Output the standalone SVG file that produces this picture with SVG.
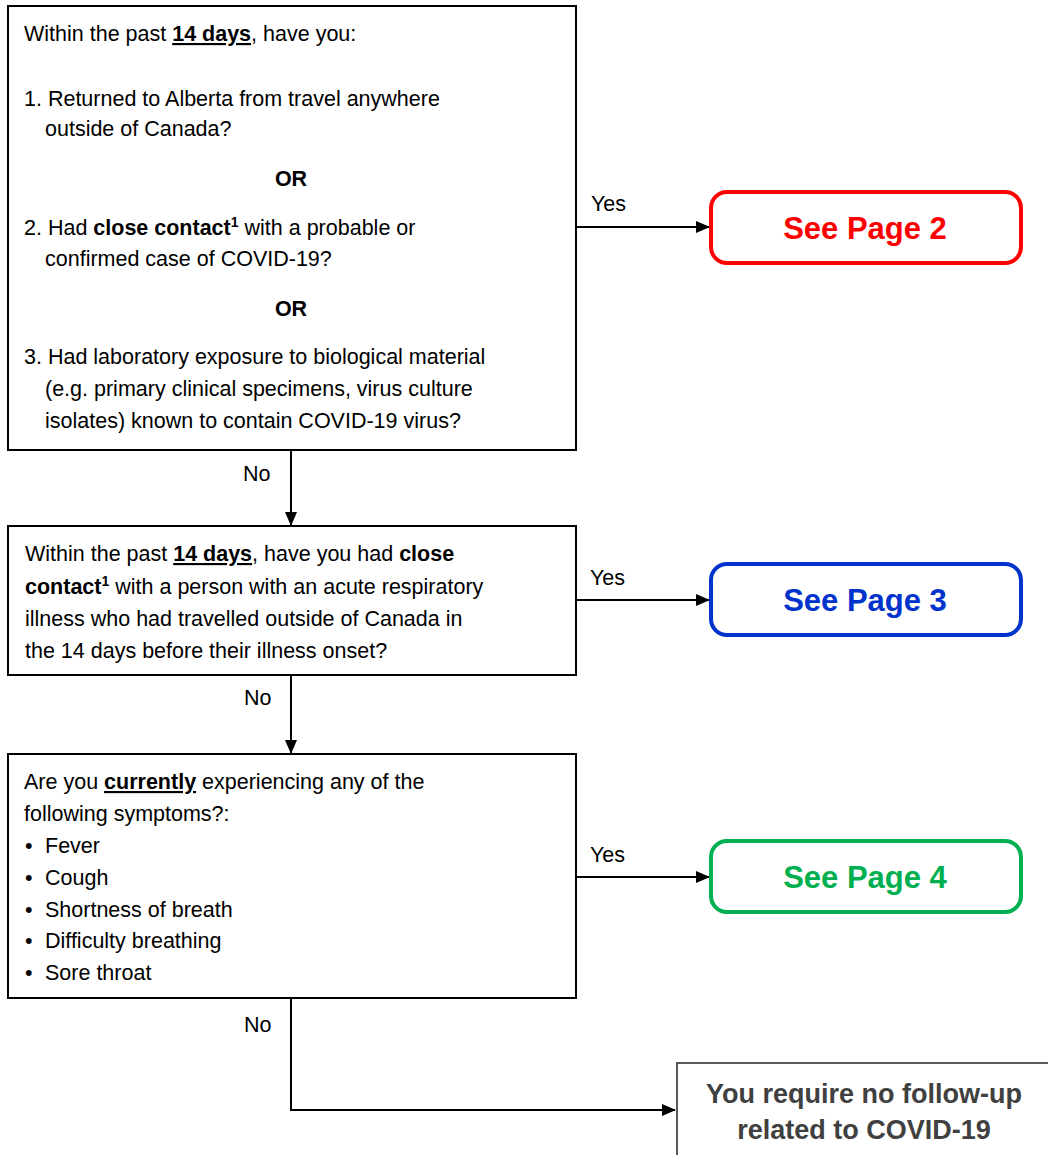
<svg xmlns="http://www.w3.org/2000/svg" width="1048" height="1155" viewBox="0 0 1048 1155">
<style>
text{font-family:"Liberation Sans",Arial,sans-serif;font-size:21.5px;fill:#000}
.b{font-weight:bold}
.u{font-weight:bold;text-decoration:underline}
.sup{font-size:14px;font-weight:bold}
.box{fill:#fff;stroke:#000;stroke-width:2}
.pg{fill:#fff;stroke-width:4}
.pt{font-size:31px;font-weight:bold;text-anchor:middle}
.ln{fill:none;stroke:#000;stroke-width:2}
.c{text-anchor:middle}
.end{font-size:27px;font-weight:bold;text-anchor:middle;fill:#404040}
</style>
<defs>
<marker id="ah" markerWidth="14" markerHeight="12" refX="13" refY="6" orient="auto" markerUnits="userSpaceOnUse">
<path d="M0,0 L14,6 L0,12 Z" fill="#000"/>
</marker>
</defs>
<g id="connectors">
<line class="ln" x1="576" y1="227" x2="709" y2="227" marker-end="url(#ah)"/>
<line class="ln" x1="291" y1="451" x2="291" y2="525" marker-end="url(#ah)"/>
<line class="ln" x1="576" y1="600" x2="709" y2="600" marker-end="url(#ah)"/>
<line class="ln" x1="291" y1="676" x2="291" y2="753" marker-end="url(#ah)"/>
<line class="ln" x1="576" y1="877" x2="709" y2="877" marker-end="url(#ah)"/>
<polyline class="ln" points="291,999 291,1110 675,1110" marker-end="url(#ah)"/>
<text x="591" y="211">Yes</text>
<text x="590" y="585">Yes</text>
<text x="590" y="862">Yes</text>
<text x="243" y="481">No</text>
<text x="244" y="705">No</text>
<text x="244" y="1032">No</text>
</g>
<g id="q1">
<rect class="box" x="8" y="6" width="568" height="444"/>
<text x="24" y="41">Within the past <tspan class="u">14 days</tspan>, have you:</text>
<text x="24" y="106">1. Returned to Alberta from travel anywhere</text>
<text x="45" y="136">outside of Canada?</text>
<text class="b c" x="291" y="186">OR</text>
<text x="24" y="235">2. Had <tspan class="b">close contact</tspan><tspan class="sup" dy="-8">1</tspan><tspan dy="8"> with a probable or</tspan></text>
<text x="45" y="266">confirmed case of COVID-19?</text>
<text class="b c" x="291" y="316">OR</text>
<text x="24" y="364">3. Had laboratory exposure to biological material</text>
<text x="45" y="396">(e.g. primary clinical specimens, virus culture</text>
<text x="45" y="428">isolates) known to contain COVID-19 virus?</text>
</g>
<g id="page2">
<rect class="pg" x="711" y="192" width="310" height="71" rx="16" stroke="#f00"/>
<text class="pt" x="865" y="239" style="fill:#f00">See Page 2</text>
</g>
<g id="q2">
<rect class="box" x="8" y="526" width="568" height="149"/>
<text x="25" y="561">Within the past <tspan class="u">14 days</tspan>, have you had <tspan class="b">close</tspan></text>
<text x="25" y="594"><tspan class="b">contact</tspan><tspan class="sup" dy="-8">1</tspan><tspan dy="8"> with a person with an acute respiratory</tspan></text>
<text x="25" y="626">illness who had travelled outside of Canada in</text>
<text x="25" y="658">the 14 days before their illness onset?</text>
</g>
<g id="page3">
<rect class="pg" x="711" y="564" width="310" height="71" rx="16" stroke="#0033cc"/>
<text class="pt" x="865" y="611" style="fill:#0033cc">See Page 3</text>
</g>
<g id="q3">
<rect class="box" x="8" y="754" width="568" height="244"/>
<text x="24" y="789">Are you <tspan class="u">currently</tspan> experiencing any of the</text>
<text x="24" y="821">following symptoms?:</text>
<text x="25" y="853">•</text><text x="45" y="853">Fever</text>
<text x="25" y="885">•</text><text x="45" y="885">Cough</text>
<text x="25" y="917">•</text><text x="45" y="917">Shortness of breath</text>
<text x="25" y="948">•</text><text x="45" y="948">Difficulty breathing</text>
<text x="25" y="980">•</text><text x="45" y="980">Sore throat</text>
</g>
<g id="page4">
<rect class="pg" x="711" y="841" width="310" height="71" rx="16" stroke="#00b050"/>
<text class="pt" x="865" y="888" style="fill:#00b050">See Page 4</text>
</g>
<g id="end">
<rect x="677" y="1063" width="380" height="110" fill="#fff" stroke="#595959" stroke-width="2"/>
<text class="end" x="864" y="1103">You require no follow-up</text>
<text class="end" x="864" y="1139">related to COVID-19</text>
</g>
</svg>
